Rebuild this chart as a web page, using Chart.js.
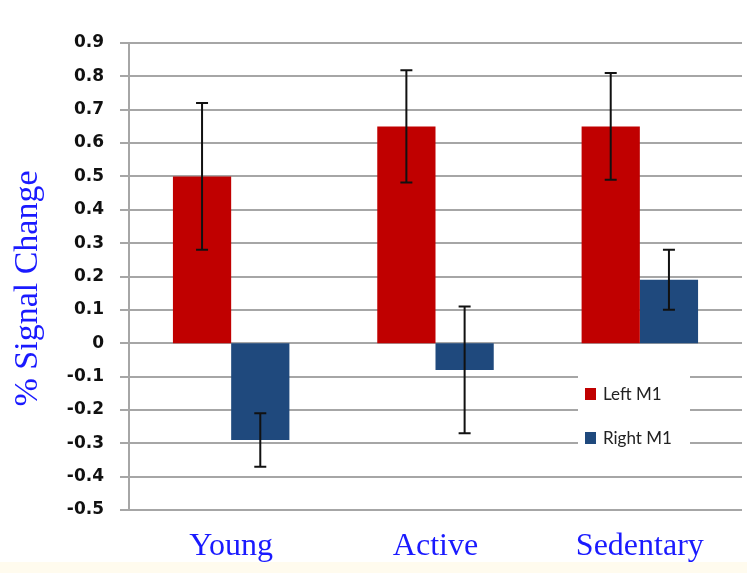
<!DOCTYPE html>
<html>
<head>
<meta charset="utf-8">
<script src="https://cdn.jsdelivr.net/npm/chart.js@4.4.1/dist/chart.umd.min.js"></script>
<style>
  html, body { margin: 0; padding: 0; }
  body { width: 747px; height: 573px; background: linear-gradient(to bottom, #ffffff 562px, #fffbee 562px); }
  #wrap { position: relative; width: 747px; height: 573px; }
</style>
</head>
<body>
<div id="wrap"><canvas id="canvas" width="747" height="573"></canvas></div>
<script>
// values
var groups = ["Young", "Active", "Sedentary"];
var seriesNames = ["Left M1", "Right M1"];
var leftM1 = [0.50, 0.65, 0.65];
var rightM1 = [-0.29, -0.08, 0.19];
var leftErr = [0.22, 0.168, 0.16];
var rightErr = [0.08, 0.19, 0.09];
var yMin = -0.5, yMax = 0.9, yStep = 0.1;
var yTitle = "% Signal Change";

var red = "#c00000", blue = "#1f497d";
var gridGray = "#a6a6a6";
var labelBlue = "#1a1aff";

// error bars on top of the bars
var errorBars = {
  id: "errorBars",
  afterDatasetsDraw: function(chart) {
    var ctx = chart.ctx, y = chart.scales.y;
    chart.data.datasets.forEach(function(ds, i) {
      var meta = chart.getDatasetMeta(i);
      meta.data.forEach(function(bar, j) {
        var v = ds.data[j], e = ds.errors[j];
        var top = y.getPixelForValue(v + e), bot = y.getPixelForValue(v - e);
        ctx.save();
        ctx.strokeStyle = "#111";
        ctx.lineWidth = 2;
        ctx.beginPath();
        ctx.moveTo(bar.x, top); ctx.lineTo(bar.x, bot);
        ctx.moveTo(bar.x - 6, top); ctx.lineTo(bar.x + 6, top);
        ctx.moveTo(bar.x - 6, bot); ctx.lineTo(bar.x + 6, bot);
        ctx.stroke();
        ctx.restore();
      });
    });
  }
};

// legend sitting inside the plot, lower right
var innerLegend = {
  id: "innerLegend",
  afterDraw: function(chart) {
    var ctx = chart.ctx, a = chart.chartArea;
    var bx = a.right - 164, by = a.top + 325;
    ctx.save();
    ctx.fillStyle = "#fff";
    ctx.fillRect(bx, by, 112, 84);
    ctx.font = "17px Lato";
    ctx.textBaseline = "middle";
    chart.data.datasets.forEach(function(ds, i) {
      var cy = by + 26 + i * 44;
      ctx.fillStyle = ds.backgroundColor;
      ctx.fillRect(bx + 7, cy - 6, 11, 12);
      ctx.fillStyle = "#222";
      ctx.fillText(ds.label, bx + 25, cy + 1);
    });
    ctx.restore();
  }
};

// rotated y title, sits a bit below the middle of the plot like the original
var yTitlePlugin = {
  id: "yTitlePlugin",
  afterDraw: function(chart) {
    var ctx = chart.ctx, a = chart.chartArea;
    ctx.save();
    ctx.translate(28, (a.top + a.bottom) / 2 + 12);
    ctx.rotate(-Math.PI / 2);
    ctx.font = "34px 'Liberation Serif'";
    ctx.fillStyle = labelBlue;
    ctx.textAlign = "center";
    ctx.textBaseline = "middle";
    ctx.fillText(yTitle, 0, 0);
    ctx.restore();
  }
};

var ctx = document.getElementById("canvas").getContext("2d");
var myBar = new Chart(ctx, {
  type: "bar",
  data: {
    labels: groups,
    datasets: [
      { label: seriesNames[0], data: leftM1, errors: leftErr, backgroundColor: red, borderWidth: 0 },
      { label: seriesNames[1], data: rightM1, errors: rightErr, backgroundColor: blue, borderWidth: 0 }
    ]
  },
  options: {
    responsive: false,
    animation: false,
    layout: { padding: { top: 43, right: 5, bottom: 0, left: 0 } },
    categoryPercentage: 0.57,
    barPercentage: 1.0,
    plugins: { legend: { display: false }, tooltip: { enabled: false } },
    scales: {
      x: {
        grid: { display: false, drawTicks: false },
        border: { display: false },
        ticks: { color: labelBlue, font: { family: "Liberation Serif", size: 32 }, padding: 17 },
        afterFit: function(s) { s.height = 63; }
      },
      y: {
        min: yMin, max: yMax,
        ticks: {
          stepSize: yStep,
          color: "#111",
          padding: 16,
          font: { family: "DejaVu Sans", size: 17, weight: "bold" },
          callback: function(v) { return String(Math.round(v * 10) / 10); }
        },
        grid: { color: gridGray, lineWidth: 2, tickLength: 9 },
        border: { display: true, color: gridGray, width: 2 },
        afterFit: function(s) { s.width = 129; }
      }
    }
  },
  plugins: [errorBars, innerLegend, yTitlePlugin]
});
</script>
</body>
</html>
